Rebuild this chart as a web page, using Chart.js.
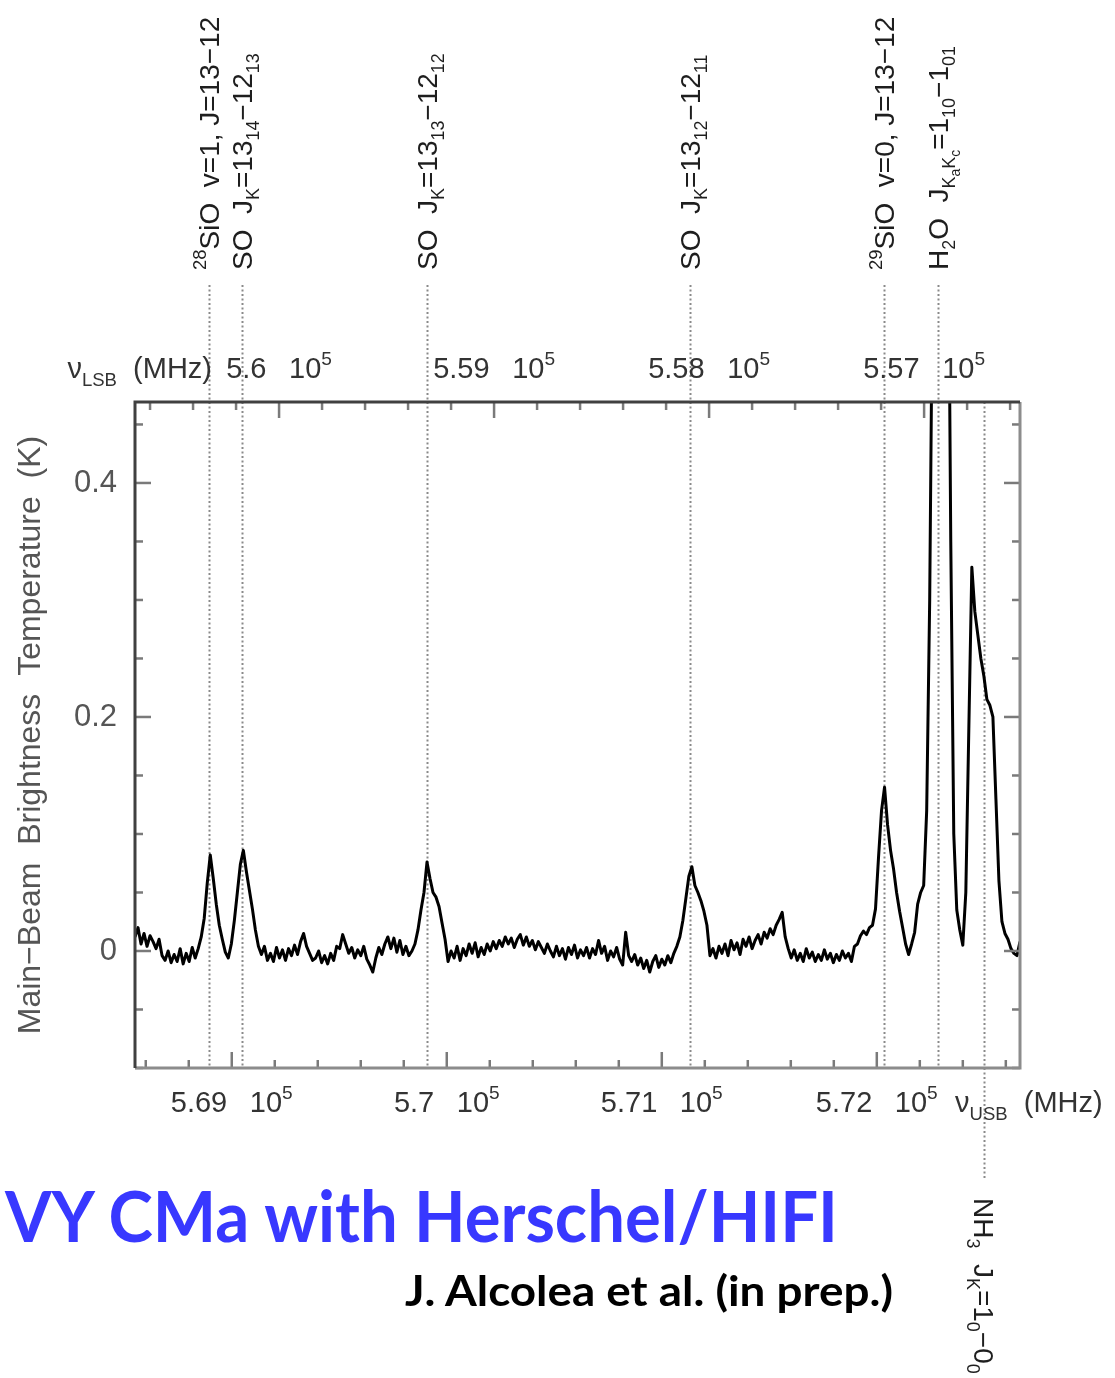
<!DOCTYPE html>
<html>
<head>
<meta charset="utf-8">
<title>VY CMa with Herschel/HIFI</title>
<script src="https://cdn.jsdelivr.net/npm/chart.js@4.4.1/dist/chart.umd.min.js"></script>
<style>
  html, body { margin: 0; padding: 0; background: #fff; }
  #wrap { position: relative; width: 1115px; height: 1378px; overflow: hidden; }
  #spectrum { position: absolute; left: 0; top: 0; }
  .caption { position: absolute; display: inline-block; white-space: nowrap; font-family: Lato, "Open Sans", sans-serif; font-weight: 700; line-height: 1; transform-origin: 0 0; }
  #title { left: 5px; top: 1180px; font-size: 70px; color: #3838ff; }
  #credit { left: 405px; top: 1269px; font-size: 42px; color: #000; }
</style>
</head>
<body>
<div id="wrap">
  <canvas id="spectrum" width="1115" height="1378"></canvas>
  <div id="title" class="caption">VY CMa with Herschel/HIFI</div>
  <div id="credit" class="caption">J. Alcolea et al. (in prep.)</div>
</div>
<script>
// spectrum channels (USB frequency in MHz)
const chanStart = 568550;
const chanStep = 14;
// main-beam brightness temperature (K), one value per channel
const tmb = [
  0.012, 0.02, 0.006, 0.015, 0.004, 0.013, 0.008, 0.002, 0.01, -0.004, -0.008, 0.0, -0.01, -0.003, -0.009,
  0.002, -0.011, -0.002, -0.009, 0.003, -0.006, 0.002, 0.012, 0.028, 0.058, 0.082, 0.062, 0.04, 0.022, 0.01,
  -0.001, -0.006, 0.006, 0.026, 0.05, 0.074, 0.086, 0.068, 0.052, 0.036, 0.018, 0.004, -0.003, 0.004, -0.008,
  -0.002, -0.009, 0.003, -0.006, 0.001, -0.008, 0.002, -0.004, 0.005, -0.003, 0.008, 0.015, 0.004, -0.002, -0.008,
  -0.006, 0.0, -0.01, -0.004, -0.011, -0.002, -0.008, 0.004, 0.002, 0.014, 0.006, -0.002, 0.003, -0.006, 0.001,
  -0.004, 0.004, -0.007, -0.012, -0.018, -0.006, 0.003, -0.003, 0.006, 0.012, 0.002, 0.011, -0.001, 0.009, -0.003,
  0.004, -0.004, 0.0, 0.006, 0.018, 0.035, 0.05, 0.076, 0.062, 0.05, 0.046, 0.038, 0.024, 0.01, -0.009,
  0.0, -0.006, 0.004, -0.008, 0.002, -0.004, 0.006, -0.002, 0.007, -0.005, 0.003, -0.003, 0.006, 0.0, 0.008,
  0.002, 0.009, 0.004, 0.012, 0.006, 0.011, 0.003, 0.01, 0.014, 0.005, 0.012, 0.004, 0.009, 0.001, 0.008,
  0.003, -0.002, 0.006, 0.0, -0.005, 0.004, -0.004, 0.002, -0.007, 0.003, -0.003, 0.005, -0.006, 0.001, -0.004,
  0.003, -0.006, 0.002, -0.003, 0.009, -0.002, 0.004, -0.008, 0.0, -0.005, 0.003, -0.007, -0.012, 0.016, -0.004,
  -0.009, -0.003, -0.012, -0.006, -0.015, -0.008, -0.018, -0.009, -0.004, -0.014, -0.007, -0.012, -0.004, -0.01, -0.002,
  0.004, 0.012, 0.026, 0.045, 0.064, 0.072, 0.056, 0.05, 0.043, 0.034, 0.022, -0.004, 0.002, -0.006, 0.004,
  -0.002, 0.006, -0.004, 0.009, 0.001, 0.007, -0.003, 0.01, 0.004, 0.012, 0.002, 0.009, 0.014, 0.006, 0.016,
  0.011, 0.019, 0.014, 0.022, 0.027, 0.033, 0.012, 0.002, -0.006, 0.001, -0.008, -0.002, -0.009, 0.002, -0.006,
  -0.001, -0.009, -0.003, -0.008, 0.001, -0.007, -0.002, -0.01, -0.003, -0.008, 0.0, -0.006, -0.002, -0.009, 0.004,
  0.006, 0.013, 0.017, 0.014, 0.02, 0.022, 0.036, 0.08, 0.12, 0.14, 0.108, 0.086, 0.07, 0.05, 0.034,
  0.02, 0.006, -0.003, 0.006, 0.016, 0.04, 0.05, 0.056, 0.12, 0.3, 0.6, 1.0, 1.3, 1.3, 1.0,
  0.7, 0.35, 0.1, 0.035, 0.018, 0.005, 0.05, 0.19, 0.328, 0.29, 0.27, 0.25, 0.235, 0.215, 0.21,
  0.2, 0.13, 0.06, 0.025, 0.015, 0.01, 0.002, -0.002, -0.004, 0.008
];

// axes
const usbMin = 568550;
const usbMax = 572666;
const loSum = 1129220; // LSB = loSum - USB
const usbLabels = [569000, 570000, 571000, 572000];
const usbLabelText = ['5.69', '5.7', '5.71', '5.72'];
const lsbLabels = [560000, 559000, 558000, 557000];
const lsbLabelText = ['5.6', '5.59', '5.58', '5.57'];
const freqMinorStep = 200;
const yMin = -0.1;
const yMax = 0.4692;
const yLabels = [0, 0.2, 0.4];
const yMinorStep = 0.05;

// identified lines (USB frequency, MHz)
const lineFreqs = [568894, 569048, 569908, 571131, 572034, 572285, 572499];
const lineNames = [
  '^{28}SiO  v=1, J=13\u221212',
  'SO  J_{K}=13_{14}\u221212_{13}',
  'SO  J_{K}=13_{13}\u221212_{12}',
  'SO  J_{K}=13_{12}\u221212_{11}',
  '^{29}SiO  v=0, J=13\u221212',
  'H_{2}O  J_{K}__{a}_{K}__{c}=1_{10}\u22121_{01}',
  'NH_{3}  J_{K}=1_{0}\u22120_{0}'
];
const lineSide = ['top', 'top', 'top', 'top', 'top', 'top', 'bottom'];

const FONT = '"Liberation Sans", Arial, Helvetica, sans-serif';
Chart.defaults.font.family = FONT;

const points = tmb.map((t, i) => ({ x: chanStart + i * chanStep, y: t }));

function drawRich(ctx, text, size, x, y, measureOnly) {
  const re = /(__|_|\^)\{([^}]*)\}|([^_^]+)/g;
  let m;
  let cx = x;
  while ((m = re.exec(text))) {
    const s = m[3] !== undefined ? m[3] : m[2];
    let fs = size;
    let dy = 0;
    if (m[1] === '_') { fs = size * 0.64; dy = size * 0.26; }
    else if (m[1] === '__') { fs = size * 0.5; dy = size * 0.42; }
    else if (m[1] === '^') { fs = size * 0.66; dy = -size * 0.45; }
    ctx.font = `${fs}px ${FONT}`;
    if (!measureOnly) ctx.fillText(s, cx, y + dy);
    cx += ctx.measureText(s).width;
  }
  return cx - x;
}

function minorTicks(lo, hi, step) {
  const out = [];
  for (let v = Math.ceil(lo / step - 1e-9) * step; v <= hi + 1e-9; v += step) out.push(v);
  return out;
}

const decor = {
  id: 'decor',
  beforeDatasetsDraw(chart) {
    const { ctx, chartArea: a, scales } = chart;
    ctx.save();
    ctx.strokeStyle = '#8a8a8a';
    ctx.lineWidth = 2;
    ctx.setLineDash([2, 2.5]);
    lineFreqs.forEach((f, k) => {
      const px = Math.round(scales.x.getPixelForValue(f)) + 0.5;
      const top = lineSide[k] === 'top' ? a.top - 117 : a.top;
      const bottom = lineSide[k] === 'top' ? a.bottom : a.bottom + 112;
      ctx.beginPath();
      ctx.moveTo(px, top);
      ctx.lineTo(px, bottom);
      ctx.stroke();
    });
    ctx.restore();
  },
  afterDatasetsDraw(chart) {
    const { ctx, chartArea: a, scales } = chart;
    const xs = scales.x;
    const xt = scales.x2;
    const ys = scales.y;
    ctx.save();

    // inward ticks
    ctx.strokeStyle = '#7a7a7a';
    ctx.lineWidth = 2.5;
    minorTicks(usbMin, usbMax, freqMinorStep).forEach(v => {
      const px = xs.getPixelForValue(v);
      const len = v % 1000 === 0 ? 16 : 8;
      ctx.beginPath(); ctx.moveTo(px, a.bottom); ctx.lineTo(px, a.bottom - len); ctx.stroke();
    });
    minorTicks(loSum - usbMax, loSum - usbMin, freqMinorStep).forEach(v => {
      const px = xt.getPixelForValue(v);
      const len = v % 1000 === 0 ? 16 : 8;
      ctx.beginPath(); ctx.moveTo(px, a.top); ctx.lineTo(px, a.top + len); ctx.stroke();
    });
    minorTicks(yMin, yMax, yMinorStep).forEach(v => {
      const py = ys.getPixelForValue(v);
      const major = yLabels.some(l => Math.abs(l - v) < 1e-6);
      const len = major ? 16 : 8;
      ctx.beginPath(); ctx.moveTo(a.left, py); ctx.lineTo(a.left + len, py); ctx.stroke();
      ctx.beginPath(); ctx.moveTo(a.right, py); ctx.lineTo(a.right - len, py); ctx.stroke();
    });

    // frame
    ctx.lineWidth = 3;
    ctx.strokeStyle = '#8c8c8c';
    ctx.beginPath(); ctx.moveTo(a.left, a.bottom); ctx.lineTo(a.right, a.bottom); ctx.lineTo(a.right, a.top); ctx.stroke();
    ctx.strokeStyle = '#404040';
    ctx.beginPath(); ctx.moveTo(a.left, a.bottom); ctx.lineTo(a.left, a.top); ctx.lineTo(a.right, a.top); ctx.stroke();

    // frequency tick labels
    ctx.fillStyle = '#333';
    ctx.textBaseline = 'alphabetic';
    const tickSize = 29;
    usbLabels.forEach((v, k) => {
      const txt = usbLabelText[k] + '\u2002 10^{5}';
      const w = drawRich(ctx, txt, tickSize, 0, 0, true);
      drawRich(ctx, txt, tickSize, xs.getPixelForValue(v) - w / 2, a.bottom + 44);
    });
    lsbLabels.forEach((v, k) => {
      const txt = lsbLabelText[k] + '\u2002 10^{5}';
      const w = drawRich(ctx, txt, tickSize, 0, 0, true);
      drawRich(ctx, txt, tickSize, xt.getPixelForValue(v) - w / 2, a.top - 24);
    });
    const lsbName = '\u03bd_{LSB}  (MHz)';
    const lw = drawRich(ctx, lsbName, tickSize, 0, 0, true);
    drawRich(ctx, lsbName, tickSize, 212 - lw, a.top - 24);
    drawRich(ctx, '\u03bd_{USB}  (MHz)', tickSize, 955, a.bottom + 44);

    // line identifications
    ctx.fillStyle = '#1e1e1e';
    const labSize = 28;
    lineFreqs.forEach((f, k) => {
      const px = xs.getPixelForValue(f);
      ctx.save();
      if (lineSide[k] === 'top') {
        ctx.translate(px, a.top - 132);
        ctx.rotate(-Math.PI / 2);
      } else {
        ctx.translate(px, a.bottom + 130);
        ctx.rotate(Math.PI / 2);
      }
      drawRich(ctx, lineNames[k], labSize, 0, labSize * 0.36);
      ctx.restore();
    });
    ctx.restore();
  }
};

const chart = new Chart(document.getElementById('spectrum').getContext('2d'), {
  type: 'line',
  data: {
    datasets: [{
      data: points,
      borderColor: '#000',
      borderWidth: 3,
      borderJoinStyle: 'round',
      pointRadius: 0,
      tension: 0,
      xAxisID: 'x',
      yAxisID: 'y'
    }]
  },
  options: {
    responsive: false,
    animation: false,
    devicePixelRatio: 1,
    layout: { padding: { left: 0, right: 95, top: 0, bottom: 0 } },
    plugins: { legend: { display: false }, tooltip: { enabled: false } },
    scales: {
      x: {
        type: 'linear', position: 'bottom', min: usbMin, max: usbMax,
        grid: { display: false, drawTicks: false }, border: { display: false },
        ticks: { display: false },
        afterFit: s => { s.height = 1378 - 1068; }
      },
      x2: {
        type: 'linear', position: 'top', reverse: true,
        min: loSum - usbMax, max: loSum - usbMin,
        grid: { display: false, drawTicks: false }, border: { display: false },
        ticks: { display: false },
        afterFit: s => { s.height = 402; }
      },
      y: {
        min: yMin, max: yMax,
        grid: { display: false, drawTicks: false }, border: { display: false },
        afterBuildTicks: s => { s.ticks = minorTicks(yMin, yMax, yMinorStep).map(v => ({ value: v })); },
        ticks: {
          padding: 18,
          color: '#555',
          font: { size: 31 },
          callback: v => (yLabels.some(l => Math.abs(l - v) < 1e-6) ? String(Math.round(v * 10) / 10) : '')
        },
        title: {
          display: true,
          text: 'Main\u2212Beam  Brightness  Temperature  (K)',
          color: '#555',
          font: { size: 32 },
          padding: { top: 12, bottom: 0 }
        },
        afterFit: s => { s.width = 135; }
      }
    }
  },
  plugins: [decor]
});

function fitWidth(el, target) {
  const w = el.getBoundingClientRect().width;
  el.style.transform = `scaleX(${target / w})`;
}
fitWidth(document.getElementById('title'), 833);
fitWidth(document.getElementById('credit'), 488);
</script>
</body>
</html>
